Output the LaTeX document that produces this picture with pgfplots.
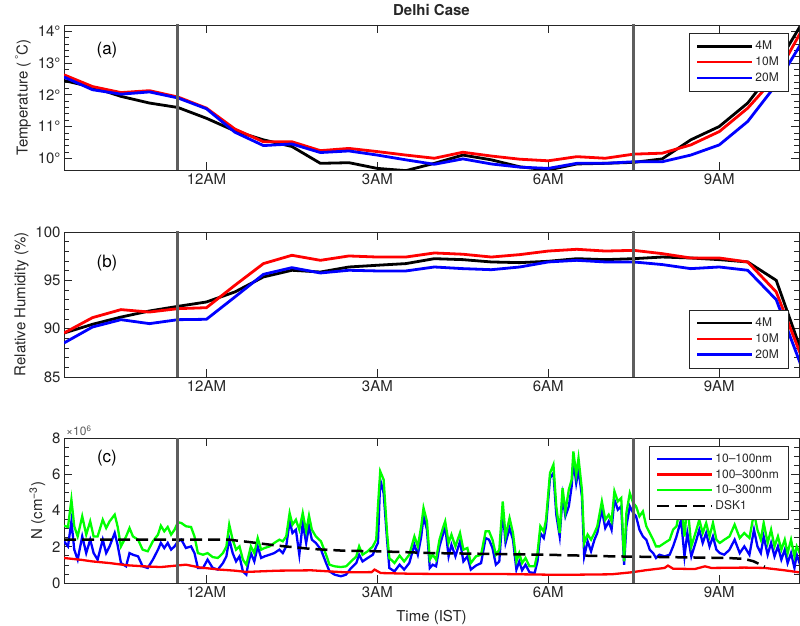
\documentclass[border=0pt]{standalone}
\usepackage{pgfplots}
\pgfplotsset{compat=1.18}
\usepackage{pgfplotstable}
\usepackage{fontspec}
\setmainfont{TeX Gyre Heros}
\definecolor{axgray}{HTML}{262626}
\definecolor{vgray}{HTML}{5E5E5E}
\definecolor{mgreen}{HTML}{00FF00}
\definecolor{mred}{HTML}{FF0000}
\definecolor{mblue}{HTML}{0000FF}
\newcommand{\ticksize}{\fontsize{15}{18}\selectfont}
\newcommand{\legsize}{\fontsize{12}{14}\selectfont}
\newcommand{\panelsize}{\fontsize{17}{20}\selectfont}

\pgfplotstableread{
h    black  red    blue
-2.5 12.45 12.63 12.56
-2.0 12.24 12.26 12.16
-1.5 11.95 12.07 12.02
-1.0 11.74 12.13 12.09
-0.5 11.60 11.93 11.90
0.0  11.26 11.58 11.56
0.5  10.86 10.92 10.82
1.0  10.58 10.52 10.40
1.5  10.37 10.52 10.45
2.0  9.84  10.24 10.18
2.5  9.86  10.31 10.23
3.0  9.68  10.21 10.10
3.5  9.61  10.10 9.95
4.0  9.84  10.00 9.81
4.5  10.10 10.19 9.98
5.0  9.95  10.07 9.82
5.5  9.73  9.97  9.72
6.0  9.63  9.92  9.68
6.5  9.82  10.05 9.84
7.0  9.84  10.00 9.84
7.5  9.87  10.13 9.89
8.0  9.98  10.16 9.89
8.5  10.58 10.42 10.10
9.0  11.00 10.84 10.42
9.5  11.74 11.58 11.16
10.0 12.90 12.58 12.32
10.5 14.40 14.20 13.80
}\temptab

\pgfplotstableread{
h    black  red    blue
-2.5 89.55 89.55 88.52
-2.0 90.45 91.14 90.17
-1.5 91.20 91.97 90.93
-1.0 91.83 91.72 90.52
-0.5 92.31 92.07 90.93
0.0  92.76 92.17 90.97
0.5  93.80 94.49 93.28
1.0  95.35 96.73 95.62
1.5  96.04 97.59 96.31
2.0  95.86 97.07 95.76
2.5  96.38 97.52 96.04
3.0  96.56 97.41 95.97
3.5  96.73 97.41 95.97
4.0  97.24 97.83 96.38
4.5  97.14 97.70 96.21
5.0  96.90 97.41 96.10
5.5  96.83 97.66 96.38
6.0  96.97 98.03 96.90
6.5  97.24 98.21 97.07
7.0  97.14 98.03 96.90
7.5  97.24 98.10 96.90
8.0  97.41 97.76 96.63
8.5  97.31 97.31 96.21
9.0  97.14 97.31 96.38
9.5  96.90 96.90 96.04
10.0 95.00 93.80 93.00
10.5 86.70 86.25 85.20
}\rhtab

\pgfplotstableread{
h N
-2.50 2.30
-2.43 2.02
-2.37 3.40
-2.32 1.84
-2.26 1.29
-2.18 2.57
-2.11 1.65
-2.04 2.39
-1.98 1.65
-1.91 1.29
-1.82 2.39
-1.76 1.65
-1.70 2.02
-1.61 2.76
-1.56 2.11
-1.50 1.10
-1.41 0.92
-1.35 1.65
-1.29 1.56
-1.20 1.47
-1.12 0.92
-1.03 0.83
-0.94 1.29
-0.85 1.84
-0.80 2.21
-0.74 1.93
-0.68 2.21
-0.62 1.84
-0.56 2.02
-0.50 2.30
-0.44 2.39
-0.36 1.93
-0.27 2.02
-0.21 1.65
-0.15 0.83
-0.06 0.83
0.02 1.29
0.11 0.83
0.20 0.74
0.29 1.10
0.35 1.47
0.40 2.43
0.46 1.65
0.52 1.19
0.58 1.47
0.64 0.64
0.70 0.46
0.73 1.01
0.78 1.65
0.84 1.19
0.90 2.02
0.96 1.38
1.02 1.47
1.11 1.56
1.19 1.65
1.28 1.84
1.34 1.65
1.40 2.02
1.46 3.40
1.51 2.76
1.57 2.94
1.63 1.56
1.69 3.31
1.75 2.21
1.80 3.13
1.85 2.39
1.92 2.21
2.01 1.84
2.10 1.10
2.16 0.64
2.25 0.46
2.36 0.37
2.45 0.46
2.54 0.83
2.63 1.10
2.68 1.56
2.74 1.19
2.83 1.38
2.92 1.56
2.98 2.02
3.01 2.21
3.05 5.70
3.11 4.96
3.17 2.39
3.21 0.83
3.30 0.64
3.39 1.01
3.47 0.74
3.56 1.10
3.65 2.11
3.71 1.56
3.77 2.57
3.81 3.68
3.87 2.94
3.92 0.83
3.97 1.01
4.03 0.92
4.09 2.02
4.15 2.67
4.19 3.13
4.25 1.47
4.30 2.11
4.37 1.47
4.45 2.30
4.51 1.19
4.58 1.47
4.64 0.74
4.73 0.96
4.82 1.10
4.90 2.48
4.96 2.39
5.02 1.93
5.08 1.01
5.14 1.19
5.20 3.95
5.25 2.21
5.32 3.03
5.38 2.39
5.44 0.74
5.49 1.19
5.54 0.70
5.60 1.01
5.67 0.59
5.76 0.55
5.81 1.19
5.86 2.76
5.92 2.48
5.96 3.13
6.03 5.79
6.09 6.07
6.14 3.77
6.20 2.57
6.25 4.78
6.30 3.68
6.36 4.23
6.41 5.33
6.44 6.80
6.49 5.51
6.53 6.25
6.59 4.78
6.63 1.47
6.69 2.30
6.75 1.75
6.81 2.39
6.86 2.76
6.94 4.04
7.00 3.03
7.06 3.40
7.11 2.94
7.16 4.60
7.22 4.04
7.28 4.23
7.33 1.01
7.37 3.13
7.43 4.23
7.49 3.86
7.54 3.68
7.60 2.94
7.66 2.57
7.72 2.39
7.78 1.84
7.84 1.65
7.89 1.38
7.95 1.56
8.04 1.47
8.13 1.56
8.19 2.02
8.25 2.57
8.33 3.49
8.39 1.47
8.44 2.76
8.51 1.47
8.60 2.39
8.65 2.94
8.71 2.21
8.77 2.76
8.83 2.02
8.89 2.57
8.95 1.84
9.01 1.65
9.09 1.56
9.18 1.84
9.27 2.39
9.36 1.65
9.44 2.02
9.53 1.56
9.61 2.94
9.67 2.02
9.73 1.65
9.78 2.57
9.85 1.56
9.91 2.21
9.97 1.47
10.03 2.02
10.09 1.29
10.15 1.84
10.20 1.10
10.26 1.65
10.32 0.83
10.36 1.56
10.42 1.00
}\bluetab

\pgfplotstableread{
h N
-2.50 3.16
-2.43 3.09
-2.37 4.60
-2.32 3.13
-2.26 2.57
-2.18 3.68
-2.11 2.67
-2.04 3.40
-1.98 2.57
-1.91 2.57
-1.82 3.49
-1.76 3.03
-1.70 3.40
-1.61 3.77
-1.56 3.13
-1.50 2.02
-1.41 2.57
-1.35 3.03
-1.29 2.57
-1.20 2.39
-1.12 1.84
-1.03 1.75
-0.94 2.30
-0.85 2.67
-0.80 3.16
-0.74 2.85
-0.68 3.09
-0.62 2.67
-0.56 2.94
-0.50 3.35
-0.44 3.31
-0.36 3.13
-0.27 3.09
-0.21 2.57
-0.15 1.65
-0.06 1.56
0.02 1.65
0.11 1.43
0.20 1.38
0.29 1.65
0.35 2.02
0.40 3.22
0.46 2.39
0.52 1.84
0.58 2.02
0.64 1.29
0.70 1.01
0.73 1.38
0.78 2.02
0.84 1.65
0.90 2.48
0.96 1.84
1.02 1.93
1.11 2.02
1.19 2.21
1.28 2.39
1.34 2.30
1.40 2.57
1.46 3.86
1.51 3.22
1.57 3.49
1.63 2.94
1.69 3.86
1.75 2.85
1.80 3.71
1.85 2.94
1.92 2.57
2.01 2.30
2.10 1.56
2.16 1.01
2.25 0.92
2.36 0.88
2.45 0.92
2.54 1.19
2.63 1.47
2.68 2.02
2.74 1.56
2.83 1.75
2.92 2.02
2.98 2.39
3.01 4.23
3.05 6.16
3.11 5.70
3.17 2.76
3.21 1.38
3.30 1.10
3.39 1.51
3.47 1.19
3.56 1.56
3.65 2.57
3.71 2.02
3.77 3.13
3.81 4.14
3.87 3.40
3.92 1.29
3.97 1.56
4.03 1.29
4.09 2.39
4.15 3.03
4.19 3.40
4.25 2.21
4.30 2.67
4.37 2.02
4.45 2.76
4.51 1.84
4.58 1.93
4.64 1.10
4.73 1.47
4.82 1.56
4.90 2.85
4.96 2.85
5.02 2.39
5.08 1.56
5.14 1.84
5.20 4.50
5.25 2.57
5.32 3.58
5.38 2.76
5.44 1.19
5.49 1.65
5.54 1.10
5.60 1.38
5.67 0.92
5.76 0.92
5.81 1.65
5.86 3.13
5.92 2.85
5.96 3.49
6.03 6.07
6.09 6.53
6.14 4.23
6.20 2.76
6.25 5.24
6.30 3.95
6.36 5.15
6.41 5.70
6.44 7.26
6.49 5.97
6.53 6.89
6.59 5.15
6.63 2.21
6.69 2.67
6.75 2.39
6.81 2.76
6.86 3.13
6.94 4.50
7.00 3.49
7.06 3.77
7.11 3.40
7.16 5.06
7.22 4.50
7.28 4.69
7.33 1.19
7.37 3.86
7.43 4.96
7.49 4.41
7.54 4.23
7.60 3.68
7.66 3.95
7.72 3.13
7.78 2.76
7.84 2.39
7.89 2.02
7.95 2.02
8.04 2.21
8.13 2.39
8.19 2.94
8.25 3.13
8.33 4.50
8.39 2.57
8.44 4.40
8.51 2.02
8.60 2.94
8.65 3.49
8.71 2.76
8.77 3.31
8.83 2.57
8.89 3.31
8.95 2.39
9.01 2.21
9.09 2.39
9.18 2.57
9.27 3.22
9.36 2.48
9.44 2.76
9.53 2.48
9.61 3.86
9.67 2.94
9.73 2.39
9.78 3.31
9.85 2.21
9.91 2.94
9.97 2.02
10.03 2.57
10.09 1.84
10.15 2.39
10.20 1.65
10.26 2.39
10.32 1.47
10.36 2.02
10.42 1.60
}\greentab

\pgfplotstableread{
h N
-2.50 1.38
-2.20 1.28
-2.00 1.19
-1.70 1.10
-1.40 0.98
-1.10 0.92
-0.80 0.88
-0.53 0.96
-0.36 1.01
-0.12 0.86
0.23 0.74
0.50 0.68
0.70 0.61
1.25 0.68
1.84 0.70
2.42 0.59
2.90 0.60
2.95 0.74
3.06 0.55
3.59 0.51
3.97 0.50
5.08 0.50
5.96 0.46
6.54 0.46
7.11 0.48
7.46 0.59
7.70 0.70
8.04 0.83
8.10 0.96
8.19 0.79
8.57 0.77
8.75 0.92
8.86 0.83
9.44 0.85
9.80 0.83
10.15 0.70
10.42 0.58
}\redtab

\pgfplotstableread{
h N
-2.50 2.39
0.40 2.39
0.75 2.26
1.25 2.06
1.84 1.88
2.42 1.78
3.01 1.75
3.59 1.69
3.97 1.65
5.08 1.60
5.96 1.56
7.12 1.47
8.28 1.42
9.15 1.38
9.44 1.33
9.60 1.20
9.80 0.90
}\dsktab

\pgfplotsset{
  delhi/.style={
    scale only axis, width=735pt, height=145pt,
    xmin=-2.5, xmax=10.4,
    xtick={0,3,6,9}, xticklabels={12AM,3AM,6AM,9AM},
    tick align=inside,
    major tick length=8pt, minor tick length=5pt,
    axis line style={axgray, line width=0.7pt},
    every tick/.style={axgray, line width=0.7pt},
    tick label style={font=\ticksize, text=axgray},
    label style={font=\ticksize, text=axgray},
    /pgf/number format/assume math mode=true,
    clip mode=individual,
    legend style={font=\legsize, draw=axgray, fill=white,
      inner xsep=7pt, inner ysep=6pt, row sep=1.5pt, text=axgray,
      cells={anchor=west}},
    legend cell align=left,
    legend image code/.code={\draw[line width=2.5pt,##1] (0pt,0pt) -- (55pt,0pt);},
  }
}

\begin{document}
\begin{tikzpicture}
\useasboundingbox (0pt,0pt) rectangle (800pt,626pt);

% ---------- (a) Temperature ----------
\begin{axis}[delhi, at={(64pt,456pt)}, anchor=south west,
  ymin=9.63, ymax=14.2,
  ytick={10,11,12,13,14}, minor y tick num=4,
  yticklabel={\pgfmathprintnumber{\tick}°},
  ylabel={Temperature (\,\textsuperscript{°}C)},
  title={Delhi Case}, title style={font=\bfseries\ticksize, text=axgray},
  legend style={at={(axis description cs:0.985,0.945)}, anchor=north east},
]
\addplot[black, line width=2.8pt] table[x=h, y=black] {\temptab};
\addplot[mred, line width=2.8pt] table[x=h, y=red] {\temptab};
\addplot[mblue, line width=2.8pt] table[x=h, y=blue] {\temptab};
\addplot[vgray, line width=3pt, forget plot] coordinates {(-0.5,9) (-0.5,15)};
\addplot[vgray, line width=3pt, forget plot] coordinates {(7.5,9) (7.5,15)};
\legend{4M,10M,20M}
\node[font=\panelsize, text=black] at (axis description cs:0.0585,0.828) {(a)};
\end{axis}

% ---------- (b) RH ----------
\begin{axis}[delhi, at={(64pt,249pt)}, anchor=south west,
  ymin=85, ymax=100,
  ytick={85,90,95,100}, minor y tick num=4,
  ylabel={Relative Humidity (\%)},
  legend style={at={(axis description cs:0.985,0.062)}, anchor=south east},
]
\addplot[black, line width=2.8pt] table[x=h, y=black] {\rhtab};
\addplot[mred, line width=2.8pt] table[x=h, y=red] {\rhtab};
\addplot[mblue, line width=2.8pt] table[x=h, y=blue] {\rhtab};
\addplot[vgray, line width=3pt, forget plot] coordinates {(-0.5,80) (-0.5,105)};
\addplot[vgray, line width=3pt, forget plot] coordinates {(7.5,80) (7.5,105)};
\legend{4M,10M,20M}
\node[font=\panelsize, text=black] at (axis description cs:0.0585,0.786) {(b)};
\end{axis}

% ---------- (c) N ----------
\begin{axis}[delhi, at={(64pt,43pt)}, anchor=south west,
  ymin=0, ymax=8,
  ytick={0,2,4,6,8}, minor y tick num=3,
  ylabel={N (cm\textsuperscript{−3})},
  xlabel={Time (IST)}, xlabel style={yshift=-6pt},
  legend style={at={(axis description cs:0.985,0.945)}, anchor=north east},
]
\addplot[mblue, line width=2.3pt] table[x=h, y=N] {\bluetab};
\addplot[mred, line width=2.3pt] table[x=h, y=N] {\redtab};
\addplot[mgreen, line width=2.3pt] table[x=h, y=N] {\greentab};
\addplot[black, line width=2.5pt, dash pattern=on 12pt off 6pt] table[x=h, y=N] {\dsktab};
\addplot[vgray, line width=3pt, forget plot] coordinates {(-0.5,-1) (-0.5,9)};
\addplot[vgray, line width=3pt, forget plot] coordinates {(7.5,-1) (7.5,9)};
\legend{10–100nm,100–300nm,10–300nm,DSK1}
\node[font=\panelsize, text=black] at (axis description cs:0.0585,0.862) {(c)};
\node[anchor=south west, font=\legsize, text=axgray!75, inner sep=2pt] at (axis description cs:0,1) {×10\textsuperscript{6}};
\end{axis}
\end{tikzpicture}
\end{document}
